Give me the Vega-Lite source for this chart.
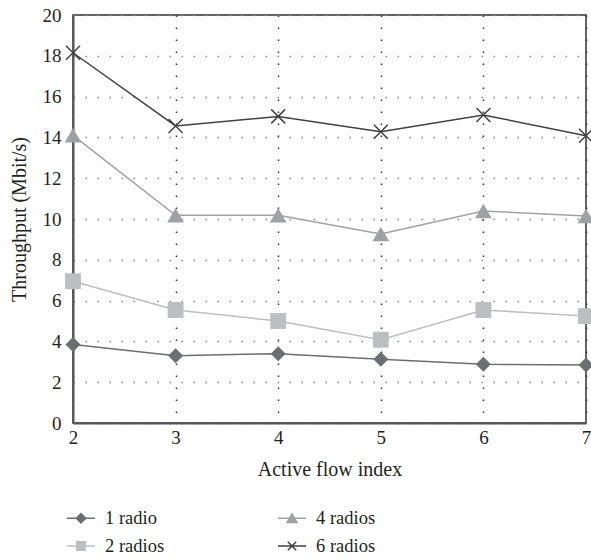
{
  "$schema": "https://vega.github.io/schema/vega-lite/v6.json",
  "autosize": "none",
  "width": 513,
  "height": 408,
  "padding": {"left": 73, "top": 15, "right": 5, "bottom": 136},
  "background": "white",
  "config": {
    "font": "Liberation Serif",
    "view": {"stroke": "#333333", "strokeWidth": 1.5},
    "axis": {
      "labelFont": "Liberation Serif",
      "titleFont": "Liberation Serif",
      "labelFontSize": 19,
      "titleFontSize": 20,
      "titleFontWeight": "normal",
      "labelColor": "#231f20",
      "titleColor": "#231f20",
      "ticks": false,
      "domainColor": "#555555",
      "domainWidth": 2,
      "grid": true,
      "gridDash": [1.5, 10.5],
      "gridWidth": 1.5
    },
    "legend": {
      "labelFont": "Liberation Serif",
      "labelFontSize": 18.5,
      "labelColor": "#231f20"
    }
  },
  "data": {
    "values": [
      {"flow": 2, "tput": 3.85, "series": "1 radio"},
      {"flow": 3, "tput": 3.3, "series": "1 radio"},
      {"flow": 4, "tput": 3.4, "series": "1 radio"},
      {"flow": 5, "tput": 3.12, "series": "1 radio"},
      {"flow": 6, "tput": 2.88, "series": "1 radio"},
      {"flow": 7, "tput": 2.84, "series": "1 radio"},
      {"flow": 2, "tput": 6.95, "series": "2 radios"},
      {"flow": 3, "tput": 5.54, "series": "2 radios"},
      {"flow": 4, "tput": 5.0, "series": "2 radios"},
      {"flow": 5, "tput": 4.08, "series": "2 radios"},
      {"flow": 6, "tput": 5.54, "series": "2 radios"},
      {"flow": 7, "tput": 5.24, "series": "2 radios"},
      {"flow": 2, "tput": 14.1, "series": "4 radios"},
      {"flow": 3, "tput": 10.18, "series": "4 radios"},
      {"flow": 4, "tput": 10.18, "series": "4 radios"},
      {"flow": 5, "tput": 9.27, "series": "4 radios"},
      {"flow": 6, "tput": 10.39, "series": "4 radios"},
      {"flow": 7, "tput": 10.15, "series": "4 radios"},
      {"flow": 2, "tput": 18.15, "series": "6 radios"},
      {"flow": 3, "tput": 14.56, "series": "6 radios"},
      {"flow": 4, "tput": 15.03, "series": "6 radios"},
      {"flow": 5, "tput": 14.28, "series": "6 radios"},
      {"flow": 6, "tput": 15.1, "series": "6 radios"},
      {"flow": 7, "tput": 14.08, "series": "6 radios"}
    ]
  },
  "encoding": {
    "x": {
      "field": "flow",
      "type": "quantitative",
      "title": "Active flow index",
      "scale": {"domain": [2, 7], "nice": false, "zero": false},
      "axis": {
        "values": [2, 3, 4, 5, 6, 7],
        "labelPadding": 5,
        "titlePadding": 12,
        "gridColor": "#333333",
        "labelFlush": false
      }
    },
    "y": {
      "field": "tput",
      "type": "quantitative",
      "title": "Throughput (Mbit/s)",
      "scale": {"domain": [0, 20], "nice": false},
      "axis": {
        "values": [0, 2, 4, 6, 8, 10, 12, 14, 16, 18, 20],
        "labelPadding": 12,
        "titlePadding": 13,
        "gridColor": "#888888"
      }
    }
  },
  "layer": [
    {
      "mark": {"type": "line", "strokeWidth": 1.5},
      "encoding": {
        "color": {
          "field": "series",
          "type": "nominal",
          "title": null,
          "scale": {
            "domain": ["1 radio", "2 radios", "4 radios", "6 radios"],
            "range": ["#6d6e71", "#bcbec0", "#a0a1a4", "#414042"]
          },
          "legend": {
            "orient": "none",
            "legendX": -7,
            "legendY": 488,
            "columns": 2,
            "columnPadding": 110,
            "rowPadding": 3,
            "symbolSize": 784,
            "labelOffset": 9,
            "encode": {
              "symbols": {
                "update": {
                  "shape": {"signal": "datum.value === '1 radio' ? 'M-1,0H1M-0.34,0L0,-0.34L0.34,0L0,0.34Z' : datum.value === '2 radios' ? 'M-1,0H1M-0.3,-0.3H0.3V0.3H-0.3Z' : datum.value === '4 radios' ? 'M-1,0H1M0,-0.32L0.36,0.3L-0.36,0.3Z' : 'M-1,0H1M-0.3,-0.3L0.3,0.3M-0.3,0.3L0.3,-0.3'"},
                  "fill": {"signal": "datum.value === '6 radios' ? 'transparent' : scale('color', datum.value)"},
                  "stroke": {"signal": "scale('color', datum.value)"},
                  "strokeWidth": {"value": 1.5},
                  "opacity": {"value": 1}
                }
              }
            }
          }
        }
      }
    },
    {
      "transform": [{"filter": "datum.series !== '6 radios'"}],
      "mark": {"type": "point", "filled": true, "opacity": 1},
      "encoding": {
        "color": {
          "field": "series",
          "type": "nominal",
          "legend": null,
          "scale": {
            "domain": ["1 radio", "2 radios", "4 radios", "6 radios"],
            "range": ["#6d6e71", "#bcbec0", "#a0a1a4", "#414042"]
          }
        },
        "shape": {
          "field": "series",
          "type": "nominal",
          "legend": null,
          "scale": {
            "domain": ["1 radio", "2 radios", "4 radios"],
            "range": ["diamond", "square", "triangle-up"]
          }
        },
        "size": {
          "field": "series",
          "type": "nominal",
          "legend": null,
          "scale": {
            "domain": ["1 radio", "2 radios", "4 radios"],
            "range": [225, 280, 330]
          }
        }
      }
    },
    {
      "transform": [{"filter": "datum.series === '6 radios'"}],
      "mark": {
        "type": "point",
        "filled": false,
        "opacity": 1,
        "shape": "M-1,-1L1,1M-1,1L1,-1",
        "size": 196,
        "strokeWidth": 1.5
      },
      "encoding": {
        "color": {
          "field": "series",
          "type": "nominal",
          "legend": null,
          "scale": {
            "domain": ["1 radio", "2 radios", "4 radios", "6 radios"],
            "range": ["#6d6e71", "#bcbec0", "#a0a1a4", "#414042"]
          }
        }
      }
    }
  ]
}
